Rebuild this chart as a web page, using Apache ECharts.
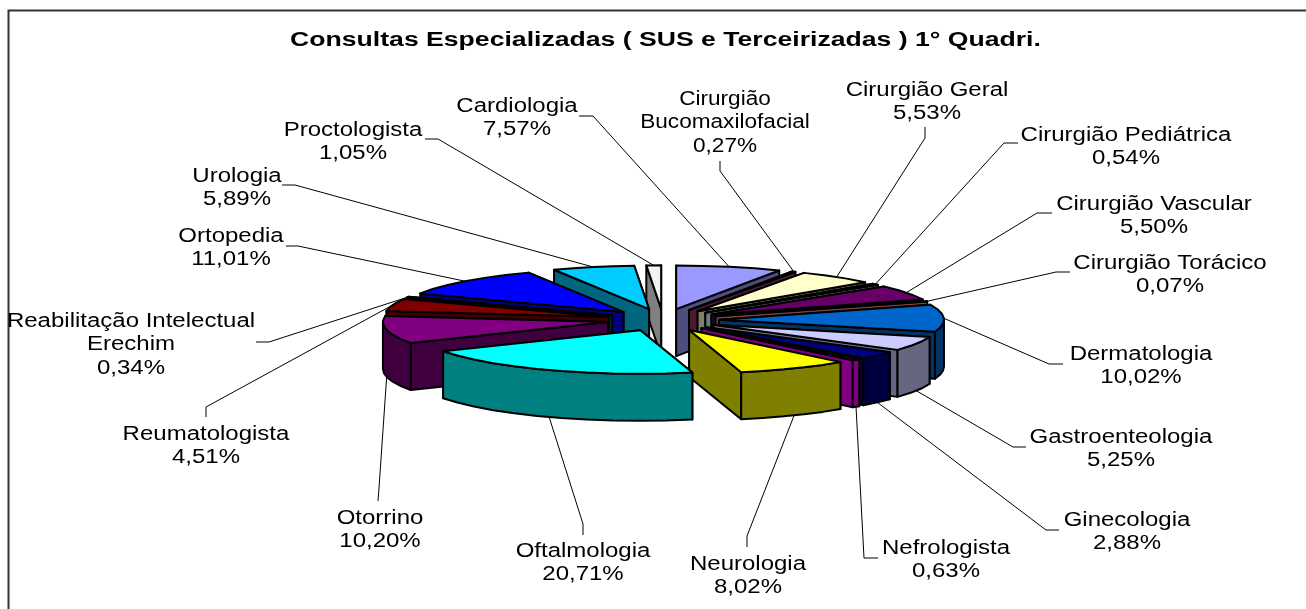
<!DOCTYPE html>
<html>
<head>
<meta charset="utf-8">
<style>
  html, body { margin: 0; padding: 0; background: #fff; }
  #chart { width: 1306px; height: 609px; }
</style>
<script src="https://cdn.jsdelivr.net/npm/echarts@6/dist/echarts.min.js"></script>
</head>
<body>
<div id="chart"></div>
<script>
const titleText = 'Consultas Especializadas ( SUS e Terceirizadas ) 1° Quadri.'
const categories = [
  'Cardiologia', 'Cirurgião\nBucomaxilofacial', 'Cirurgião Geral', 'Cirurgião Pediátrica',
  'Cirurgião Vascular', 'Cirurgião Torácico', 'Dermatologia', 'Gastroenteologia',
  'Ginecologia', 'Nefrologista', 'Neurologia', 'Oftalmologia', 'Otorrino', 'Reumatologista',
  'Reabilitação Intelectual\nErechim', 'Ortopedia', 'Urologia', 'Proctologista',
]
const percents = [7.57, 0.27, 5.53, 0.54, 5.5, 0.07, 10.02, 5.25, 2.88, 0.63, 8.02, 20.71, 10.2, 4.51, 0.34, 11.01, 5.89, 1.05]
const topColors = [
  '#9999ff', '#993366', '#ffffcc', '#ccffff', '#660066', '#ff8080', '#0066cc', '#ccccff', '#000080',
  '#ff00ff', '#ffff00', '#00ffff', '#800080', '#800000', '#008080', '#0000ff', '#00ccff', '#f2f2f2',
]
const sideColors = [
  '#4d4d80', '#4d1a33', '#808066', '#668080', '#330033', '#804040', '#003366', '#666680', '#000040',
  '#800080', '#808000', '#008080', '#400040', '#400000', '#004040', '#000080', '#006680', '#808080',
]
// label centre x, y of the first text line
const labelPos = [
  [517, 105], [725, 98], [927, 89], [1126, 134], [1154, 203], [1170, 262], [1141, 353], [1121, 436], [1127, 519],
  [946, 547], [748, 563], [583, 550], [380, 517], [206, 433], [131, 320], [231, 235], [237, 175], [353, 129],
]
// the two short points of each leader line on the label side
const leaderStart = [
  [[579, 116], [593, 116]], [[720, 161], [720, 171]], [[925, 127], [925, 138]], [[1018, 143], [1004, 143]],
  [[1052, 213], [1037, 213]], [[1070, 272], [1056, 272]], [[1063, 364], [1049, 364]], [[1026, 447], [1013, 447]],
  [[1059, 530], [1046, 530]], [[878, 558], [864, 558]], [[747, 547], [747, 536]], [[583, 535], [583, 524]],
  [[378, 501], [379, 488]], [[206, 417], [206, 407]], [[256, 342], [269, 342]], [[286, 246], [298, 246]],
  [[282, 185], [295, 185]], [[425, 139], [438, 139]],
]

const CX = 663, CY = 320
const RX = 225, RY = 43.5
const EX = 56, EY = 11.2 // explosion of the slices
const DEPTH = 47
const FONT = 'Liberation Sans, Arial, sans-serif'

// angles start at the top and run clockwise
const total = percents.reduce((a, b) => a + b, 0)
let acc = 0
const slices = percents.map((v) => {
  const a0 = (acc / total) * Math.PI * 2
  acc += v
  const a1 = (acc / total) * Math.PI * 2
  return { a0, a1, mid: (a0 + a1) / 2 }
})

function apex(s) {
  return [CX + EX * Math.sin(s.mid), CY - EY * Math.cos(s.mid)]
}
function rim(s, a) {
  const c = apex(s)
  return [c[0] + RX * Math.sin(a), c[1] - RY * Math.cos(a)]
}
function arcPoints(s, a0, a1) {
  const n = Math.max(1, Math.ceil((a1 - a0) / 0.12))
  const pts = []
  for (let i = 0; i <= n; i++) pts.push(rim(s, a0 + ((a1 - a0) * i) / n))
  return pts
}
const down = (p) => [p[0], p[1] + DEPTH]

// back slices first, the ones nearest the viewer last
function backDistance(s) {
  return Math.min(s.mid, Math.PI * 2 - s.mid)
}
const paintOrder = percents.map((v, i) => i).sort((a, b) => backDistance(slices[a]) - backDistance(slices[b]))

function renderSlice(params, api) {
  const i = api.value(0)
  const s = slices[i]
  const c = apex(s)
  const line = { stroke: '#000', lineWidth: 2, lineJoin: 'round' }
  const children = []
  const poly = (points, fill) => children.push({
    type: 'polygon',
    shape: { points },
    style: Object.assign({ fill }, line),
  })
  // cut faces, the one further back first
  const cuts = [rim(s, s.a0), rim(s, s.a1)].sort((p, q) => p[1] - q[1])
  cuts.forEach((p) => {
    poly([c, p, down(p), down(c)], sideColors[i])
  })
  // outer wall, only the part that faces front
  const f0 = Math.max(s.a0, Math.PI / 2)
  const f1 = Math.min(s.a1, Math.PI * 1.5)
  if (f1 > f0) {
    const arc = arcPoints(s, f0, f1)
    poly(arc.concat(arc.map(down).reverse()), sideColors[i])
  }
  // top
  poly([c].concat(arcPoints(s, s.a0, s.a1)), topColors[i])
  return { type: 'group', children }
}

function renderLabel(params, api) {
  const i = api.value(0)
  const s = slices[i]
  let end = rim(s, s.mid)
  if (Math.cos(s.mid) < 0) end = down(end)
  const pos = labelPos[i]
  return {
    type: 'group',
    children: [
      {
        type: 'polyline',
        shape: { points: leaderStart[i].concat([end]) },
        style: { stroke: '#000', lineWidth: 1, fill: null },
      },
      {
        type: 'text',
        x: pos[0],
        y: pos[1] - 10.5,
        scaleX: i === 1 ? 1.13 : 1.2,
        style: {
          text: categories[i] + '\n' + percents[i].toFixed(2).replace('.', ',') + '%',
          font: '20px ' + FONT,
          lineHeight: 23.5,
          align: 'center',
          verticalAlign: 'top',
          fill: '#000',
        },
      },
    ],
  }
}

const chart = echarts.init(document.getElementById('chart'), null, { renderer: 'canvas' })
chart.setOption({
  animation: false,
  backgroundColor: '#fff',
  graphic: [
    {
      type: 'polyline',
      shape: { points: [[8.5, 609], [8.5, 10.5], [1306, 10.5]] },
      style: { stroke: '#333', lineWidth: 2, fill: null },
    },
    {
      type: 'text',
      x: 665.5,
      y: 30,
      scaleX: 1.33,
      style: { text: titleText, font: 'bold 20px ' + FONT, align: 'center', verticalAlign: 'top', fill: '#000' },
    },
  ],
  series: [
    {
      type: 'custom',
      coordinateSystem: 'none',
      z: 2,
      silent: true,
      data: categories.map((c, i) => [i]),
      renderItem: renderLabel,
    },
    {
      type: 'custom',
      coordinateSystem: 'none',
      z: 3,
      silent: true,
      data: paintOrder.map((i) => [i]),
      renderItem: renderSlice,
    },
  ],
})
</script>
</body>
</html>
